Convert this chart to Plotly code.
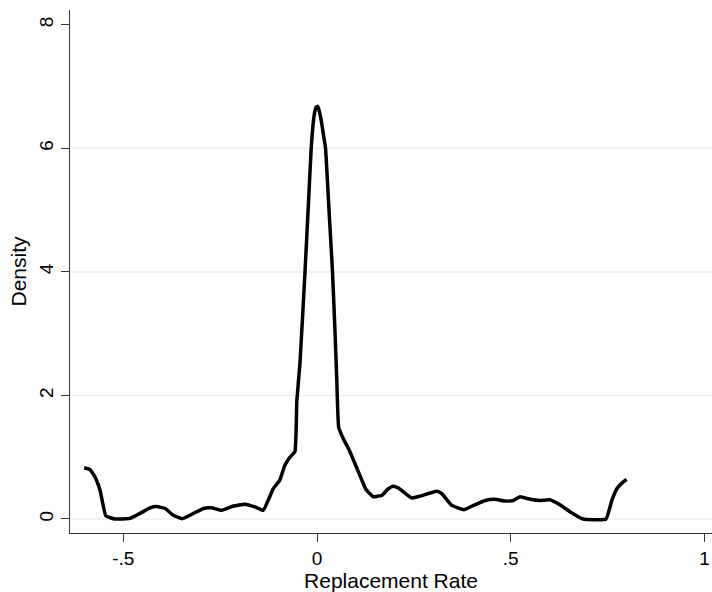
import plotly.graph_objects as go

# Kernel density estimate
rate = [-0.601, -0.586, -0.573, -0.560, -0.545, -0.521, -0.483, -0.457, -0.431, -0.414,
        -0.392, -0.371, -0.348, -0.319, -0.293, -0.272, -0.246, -0.216, -0.186, -0.160,
        -0.139, -0.113, -0.096, -0.083, -0.070, -0.057, -0.052, -0.044, -0.031, -0.023,
        -0.015, -0.0115, -0.007, -0.002, 0.002, 0.006, 0.011, 0.016, 0.022, 0.031,
        0.040, 0.046, 0.051, 0.056, 0.068,
        0.085, 0.111, 0.126, 0.145, 0.158, 0.167, 0.184, 0.197, 0.210, 0.244,
        0.266, 0.309, 0.322, 0.348, 0.379, 0.404, 0.434, 0.459, 0.485, 0.507,
        0.524, 0.550, 0.576, 0.601, 0.632, 0.657, 0.687, 0.746, 0.761, 0.774,
        0.787, 0.799]
density = [0.83, 0.80, 0.68, 0.465, 0.05, 0.0, 0.01, 0.09, 0.18, 0.20,
           0.17, 0.06, 0.005, 0.09, 0.17, 0.18, 0.14, 0.21, 0.24, 0.195,
           0.14, 0.49, 0.63, 0.87, 1.00, 1.09, 1.92, 2.52, 4.0, 5.0,
           6.0, 6.3, 6.55, 6.67, 6.68, 6.6, 6.45, 6.25, 6.0, 5.0,
           4.0, 3.1, 2.27, 1.48, 1.30,
           1.09, 0.70, 0.48, 0.36, 0.37, 0.38, 0.49, 0.53, 0.50, 0.34,
           0.37, 0.45, 0.41, 0.22, 0.15, 0.22, 0.30, 0.32, 0.29, 0.30,
           0.36, 0.32, 0.30, 0.31, 0.21, 0.10, 0.0, 0.0, 0.30, 0.49,
           0.58, 0.64]

x_ticks = [-0.5, 0, 0.5, 1]
x_tick_text = ["-.5", "0", ".5", "1"]
y_ticks = [0, 2, 4, 6, 8]
y_tick_text = ["0", "2", "4", "6", "8"]
grid_levels = [0, 2, 4, 6]

FONT = "Arial, Liberation Sans, sans-serif"

fig = go.Figure()
fig.add_trace(go.Scatter(x=rate, y=density, mode="lines",
                         line=dict(color="black", width=3.5, shape="spline", smoothing=0.35),
                         showlegend=False, hoverinfo="skip"))

for g in grid_levels:
    fig.add_shape(type="line", xref="paper", x0=0, x1=1, yref="y", y0=g, y1=g,
                  line=dict(color="#e9eff1", width=1.5), layer="below")

fig.update_layout(
    width=712, height=592,
    margin=dict(l=70, r=0, t=10, b=59),
    paper_bgcolor="white", plot_bgcolor="white",
    font=dict(family=FONT, size=19, color="black"),
    xaxis=dict(range=[-0.6376, 1.0196], tickvals=x_ticks, ticktext=x_tick_text,
               showgrid=False, zeroline=False, showline=True, linecolor="#333333",
               linewidth=1.3, ticks="outside", ticklen=8, tickcolor="#333333",
               tickwidth=1.3, tickfont=dict(size=19),
               title=dict(text="Replacement Rate", font=dict(size=21), standoff=3)),
    yaxis=dict(range=[-0.227, 8.24], tickvals=y_ticks, ticktext=y_tick_text,
               showgrid=False, zeroline=False, showline=True, linecolor="#333333",
               linewidth=1.3, ticks="outside", ticklen=8, tickcolor="#333333",
               tickwidth=1.3, tickangle=-90, tickfont=dict(size=19),
               title=dict(text="Density", font=dict(size=21), standoff=3)),
)

fig.write_html("out.html")
